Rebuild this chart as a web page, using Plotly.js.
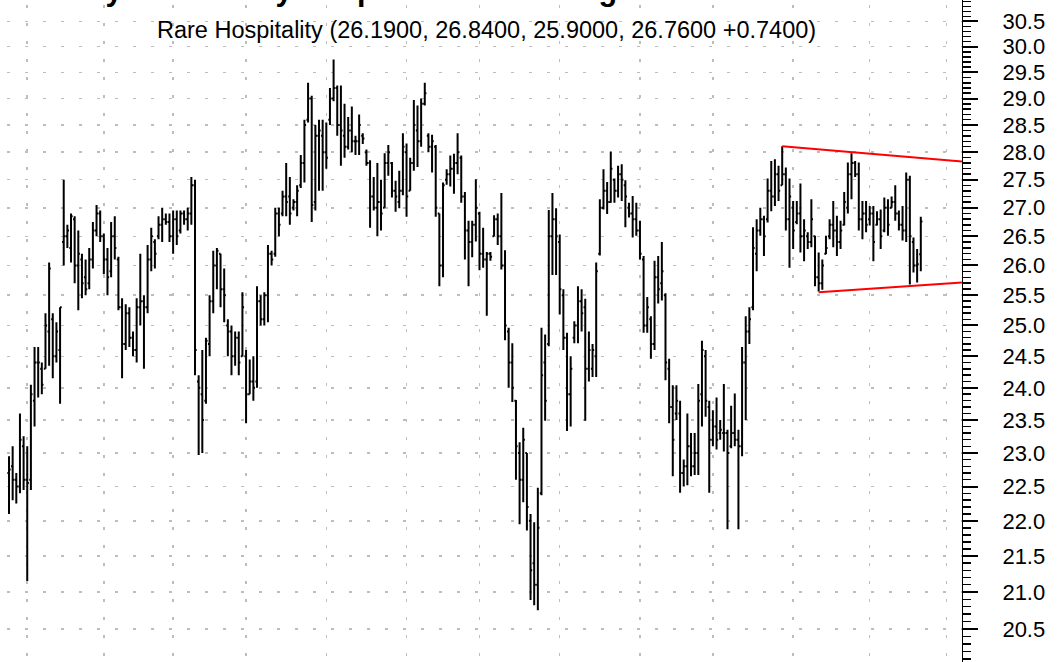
<!DOCTYPE html>
<html>
<head>
<meta charset="utf-8">
<script src="https://cdn.plot.ly/plotly-3.0.1.min.js"></script>
<style>html,body{margin:0;padding:0;background:#fff;}#chart{width:1061px;height:662px;}</style>
</head>
<body>
<div id="chart"></div>
<script>
// ---- Data (daily OHLC, trading-day index = array position) ----
const openP = [
22.7,22.8,22.6,22.5,23.1,22.6,22.6,23.8,24.4,24.3,
24.3,24.9,25.1,24.5,24.6,26.4,26.5,26.3,26.8,26.0,
26.1,25.8,25.7,26.1,26.6,26.9,26.5,26.1,25.9,26.5,
26.1,25.3,24.7,25.2,24.8,24.6,25.3,25.4,25.3,26.1,
26.4,26.5,26.7,26.8,26.75,26.5,26.8,26.6,26.9,26.8,
26.9,27.4,24.1,23.9,23.8,24.7,25.4,26.0,26.2,25.6,
25.0,24.9,24.5,24.8,24.5,24.5,23.9,24.1,24.1,25.4,
25.1,25.5,26.2,26.2,26.9,26.9,27.2,27.2,27.0,27.1,
27.4,27.8,28.6,29.0,27.1,28.3,28.3,28.0,28.6,29.0,
29.2,28.5,28.3,28.1,28.4,28.2,28.2,28.3,28.0,27.8,
27.2,27.0,27.1,27.0,27.8,27.8,27.3,27.1,27.3,28.0,
27.3,27.8,28.4,28.2,28.9,28.3,28.1,28.1,26.9,26.0,
27.5,27.6,27.7,27.8,27.9,27.2,26.6,26.4,26.7,26.9,
26.2,26.1,26.2,26.5,26.8,26.5,26.0,24.9,24.4,23.8,
23.0,22.6,23.0,22.0,21.4,21.1,22.4,24.4,24.7,26.5,
26.8,26.4,25.5,24.8,23.9,24.8,25.0,25.4,25.3,24.3,
24.3,24.5,26.2,27.0,27.3,27.1,27.5,27.3,27.6,27.4,
27.0,26.9,26.8,26.6,26.1,25.0,25.1,24.7,25.8,25.7,
25.5,24.3,23.7,23.6,23.6,22.7,22.8,23.1,22.8,23.0,
23.9,24.5,23.7,23.2,23.4,23.3,23.3,23.3,23.1,23.3,
23.2,23.1,24.4,24.9,25.3,26.2,26.6,26.8,26.8,27.3,
27.2,27.6,27.4,27.6,26.8,27.0,26.75,26.9,26.5,26.5,
26.4,26.5,25.8,25.7,26.2,26.5,26.7,26.6,26.4,26.7,
27.0,27.6,27.8,27.6,26.8,26.9,26.8,26.9,26.7,26.8,
26.6,27.0,27.0,27.1,26.9,26.7,26.6,27.5,26.4,26.0,
26.19];
const highP = [
22.95,23.1,22.7,23.6,23.25,23.1,24.05,24.65,24.65,24.4,
25.2,26.05,25.2,25.05,25.3,27.5,26.7,26.9,26.85,26.6,
26.2,26.1,26.3,26.75,27.05,26.95,26.55,26.3,26.75,26.85,
26.15,25.45,25.35,25.3,24.9,25.45,26.2,25.5,26.35,26.65,
26.45,26.85,27.0,26.9,26.9,26.95,26.95,26.95,26.95,27.0,
27.55,27.5,24.2,24.6,24.8,25.5,26.25,26.3,26.2,25.95,
25.1,25.0,24.9,24.9,25.55,24.6,24.45,24.5,25.65,25.5,
25.55,26.35,26.25,27.0,27.0,27.3,27.8,27.55,27.15,27.4,
27.95,28.6,29.3,29.05,28.5,28.6,28.6,28.55,29.2,29.75,
29.25,29.25,28.9,28.65,28.85,28.3,28.7,28.35,28.05,27.85,
27.55,27.8,27.5,27.98,28.13,27.82,27.48,27.66,28.35,28.16,
27.9,28.97,28.87,29.0,29.3,28.35,28.32,28.13,26.9,27.45,
27.69,27.94,27.97,28.35,27.94,27.28,26.77,26.77,27.51,26.93,
26.65,26.23,26.23,26.87,26.9,27.26,26.26,24.96,24.71,23.81,
23.16,23.38,23.0,22.1,21.98,22.48,24.96,24.85,26.96,27.26,
26.99,26.53,25.6,24.88,24.5,25.07,25.65,25.6,25.44,24.9,
24.7,26.05,27.15,27.69,27.46,28.01,27.52,27.75,27.78,27.49,
27.09,27.21,27.09,26.77,26.16,25.47,25.15,26.08,26.16,26.4,
25.53,24.46,24.04,24.04,23.8,22.9,23.6,23.3,23.3,24.06,
24.75,24.6,23.8,23.65,23.85,23.5,24.06,23.35,23.72,23.91,
23.35,24.65,25.15,25.3,26.66,26.8,27.0,26.86,27.52,27.84,
27.87,27.75,28.11,27.72,27.52,27.12,27.12,27.43,26.8,26.57,
27.15,26.51,26.22,26.1,26.51,26.8,27.12,26.86,26.77,27.28,
27.81,27.98,27.84,27.81,27.12,27.12,27.03,27.03,26.94,26.97,
27.18,27.15,27.2,27.4,26.95,27.03,27.63,27.57,26.48,26.28,
26.84];
const lowP = [
22.1,22.3,22.25,22.4,22.45,21.15,22.45,23.4,23.85,23.9,
24.3,24.35,24.15,24.4,23.75,26.0,26.3,26.05,25.7,25.25,
25.45,25.5,25.6,25.95,26.5,26.4,25.85,25.5,25.8,26.1,
25.25,24.15,24.6,24.65,24.5,24.4,25.0,24.3,25.2,25.9,
25.95,26.45,26.4,26.7,26.4,26.2,26.35,26.55,26.7,26.6,
26.7,24.2,22.97,23.0,23.75,24.5,25.2,25.6,25.3,25.05,
24.5,24.2,24.35,24.2,24.5,23.45,23.9,23.8,24.0,25.0,
25.0,25.05,26.0,26.15,26.5,26.85,26.85,26.7,26.95,26.85,
27.35,27.45,28.55,26.75,26.95,27.3,27.3,27.7,28.5,28.95,
28.3,27.75,27.9,28.05,28.0,27.95,27.95,28.15,27.75,26.65,
26.95,26.5,26.6,27.0,27.57,27.18,26.93,26.99,27.22,26.84,
27.3,27.66,27.73,28.1,28.87,28.0,27.63,26.84,25.65,25.8,
27.41,27.38,27.25,27.6,27.09,26.1,25.65,26.14,26.41,25.92,
25.96,25.16,26.08,26.5,26.35,25.93,24.76,24.0,23.78,22.6,
21.95,22.27,21.86,20.89,20.82,20.75,22.37,23.49,24.66,25.84,
25.84,25.18,24.6,23.33,23.4,24.71,24.71,24.9,23.49,24.1,
24.17,24.17,26.17,26.97,26.89,27.09,27.09,27.18,27.12,26.66,
26.83,26.48,26.51,26.1,24.88,24.88,24.46,24.6,25.36,25.41,
24.12,23.45,22.65,23.5,22.41,22.5,22.52,22.65,22.67,22.67,
23.4,23.55,22.41,23.1,23.05,23.2,23.02,21.88,23.07,23.1,
21.88,22.95,23.5,24.7,25.25,25.9,26.51,26.16,26.74,26.94,
27.03,27.12,27.4,26.6,25.96,26.28,26.71,26.22,26.07,26.28,
26.31,25.65,25.56,25.59,26.19,26.45,26.31,26.16,26.28,26.69,
26.9,27.15,27.55,26.6,26.45,26.57,26.69,26.07,26.69,26.28,
26.57,26.51,27.0,26.77,26.6,26.43,26.4,25.68,25.88,25.71,
25.90];
const closeP = [
22.75,22.6,22.5,23.2,22.6,22.55,23.9,24.4,24.4,24.05,
25.0,25.95,24.5,24.9,25.3,26.5,26.6,26.85,26.0,26.2,
25.7,25.6,26.1,26.6,26.9,26.5,26.1,25.8,26.5,26.3,
25.3,24.7,25.2,24.8,24.6,25.3,25.4,25.3,26.1,26.5,
26.2,26.7,26.8,26.75,26.5,26.8,26.5,26.9,26.8,26.9,
27.4,24.6,24.0,23.5,24.75,25.4,26.0,26.25,25.6,25.5,
24.9,24.5,24.8,24.4,25.3,23.9,24.1,24.0,25.4,25.1,
25.5,26.2,26.1,26.9,26.7,27.2,27.1,26.9,27.1,27.3,
27.8,28.5,29.0,27.05,28.3,28.4,28.0,27.9,29.0,29.2,
28.5,28.4,28.1,28.4,28.2,28.2,28.5,28.25,27.8,27.2,
27.0,27.1,26.9,27.8,28.0,27.3,27.2,27.3,28.1,27.2,
27.8,28.5,28.2,28.9,29.1,28.1,28.2,27.0,26.0,27.4,
27.6,27.7,27.8,28.0,27.2,26.6,26.4,26.7,27.0,26.2,
26.1,26.2,26.15,26.8,26.5,26.0,25.0,24.4,24.0,23.1,
22.6,23.2,22.2,21.3,21.1,21.9,24.2,23.8,26.5,26.8,
26.5,25.6,24.8,23.9,24.3,25.0,25.4,25.2,24.3,24.6,
24.6,25.9,27.0,27.3,27.1,27.7,27.3,27.6,27.5,27.2,
26.9,26.8,26.6,26.2,25.0,25.3,24.7,25.8,25.6,25.9,
24.4,23.7,23.2,23.8,22.7,22.8,23.1,22.8,23.0,23.8,
24.6,23.8,23.2,23.4,23.2,23.35,23.3,23.0,23.3,23.2,
23.1,24.4,24.9,25.1,26.3,26.6,26.8,26.5,27.3,27.2,
27.6,27.3,27.6,26.8,27.2,26.6,26.9,26.5,26.6,26.4,
26.8,25.8,25.7,26.0,26.3,26.7,26.6,26.4,26.6,27.1,
27.6,27.8,27.6,26.8,26.9,26.7,26.9,26.4,26.8,26.5,
27.0,26.7,27.1,26.9,26.7,26.6,27.5,26.5,26.0,26.02,
26.76];

// month-start trading-day indices (vertical grid)
const monthStarts = [5, 26, 45, 65, 87, 109, 129, 151, 173, 193, 215, 236, 257];

// price axis tick values and labels
const yTickVals = [20.5,21,21.5,22,22.5,23,23.5,24,24.5,25,25.5,26,26.5,27,27.5,28,28.5,29,29.5,30,30.5];
const yTickText = ["20.5","21.0","21.5","22.0","22.5","23.0","23.5","24.0","24.5","25.0","25.5","26.0","26.5","27.0","27.5","28.0","28.5","29.0","29.5","30.0","30.5"];

// symmetrical triangle trendlines (day index, price)
const upperLineX = [212, 261.3];
const upperLineY = [28.11, 27.83];
const lowerLineX = [222, 261.3];
const lowerLineY = [25.55, 25.71];

const chartTitle = "Symmetrically Shaped Chart Is Long and Wide";
const subTitle = "Rare Hospitality (26.1900, 26.8400, 25.9000, 26.7600 +0.7400)";

// ---- build ----
const dayIdx = openP.map((_, i) => i);

const minorVals = [];
for (let k = 201; k <= 309; k++) { if (k % 5 !== 0) minorVals.push(k / 10); }

const FONT = "Liberation Sans, Arial, Helvetica, sans-serif";

const traces = [
  {
    type: "ohlc",
    x: dayIdx, open: openP, high: highP, low: lowP, close: closeP,
    increasing: {line: {color: "#000000", width: 2}},
    decreasing: {line: {color: "#000000", width: 2}},
    tickwidth: 0.45,
    hoverinfo: "skip",
    showlegend: false
  },
  {
    type: "scatter", mode: "lines", x: upperLineX, y: upperLineY,
    line: {color: "#ff0000", width: 2}, hoverinfo: "skip", showlegend: false, cliponaxis: false
  },
  {
    type: "scatter", mode: "lines", x: lowerLineX, y: lowerLineY,
    line: {color: "#ff0000", width: 2}, hoverinfo: "skip", showlegend: false, cliponaxis: false
  }
];

const PLOT_W = 962;
const layout = {
  width: 1061, height: 662,
  margin: {l: 0, r: 99, t: 0, b: 0, pad: 0},
  paper_bgcolor: "#ffffff", plot_bgcolor: "#ffffff",
  font: {family: FONT, color: "#000000", size: 22},
  showlegend: false,
  xaxis: {
    range: [-2.47, 261.3],
    rangeslider: {visible: false},
    showticklabels: false, ticks: "",
    tickmode: "array", tickvals: monthStarts,
    showgrid: true, gridcolor: "#bdbdbd", gridwidth: 1.5, griddash: "0px,5px,3px,10px",
    zeroline: false, showline: false, fixedrange: true
  },
  yaxis: {
    type: "log", side: "right",
    range: [Math.log10(20.06), Math.log10(30.93)],
    tickmode: "array", tickvals: yTickVals, ticktext: yTickText,
    ticks: "outside", ticklen: 15, tickwidth: 2, tickcolor: "#000000",
    ticklabelstandoff: 20,
    tickfont: {family: FONT, size: 22, color: "#000000"},
    minor: {tickmode: "array", tickvals: minorVals, ticks: "outside", ticklen: 8, tickwidth: 1.5, tickcolor: "#000000", showgrid: false},
    showgrid: true, gridcolor: "#bdbdbd", gridwidth: 1.5, griddash: "0px,7px,3px,8px",
    showline: true, linecolor: "#000000", linewidth: 1,
    zeroline: false, fixedrange: true
  },
  annotations: [
    {
      text: "<b>" + chartTitle + "</b>", xref: "paper", yref: "paper",
      x: 83 / PLOT_W, y: 1 - 9 / 662, xanchor: "left", yanchor: "bottom",
      showarrow: false, font: {family: FONT, size: 30.6, color: "#000000"}
    },
    {
      text: subTitle, xref: "paper", yref: "paper",
      x: 155 / PLOT_W, y: 1 - 45 / 662, xanchor: "left", yanchor: "bottom",
      showarrow: false, font: {family: FONT, size: 23.5, color: "#000000"}
    }
  ]
};

Plotly.newPlot("chart", traces, layout, {displayModeBar: false, staticPlot: true});
</script>
</body>
</html>
